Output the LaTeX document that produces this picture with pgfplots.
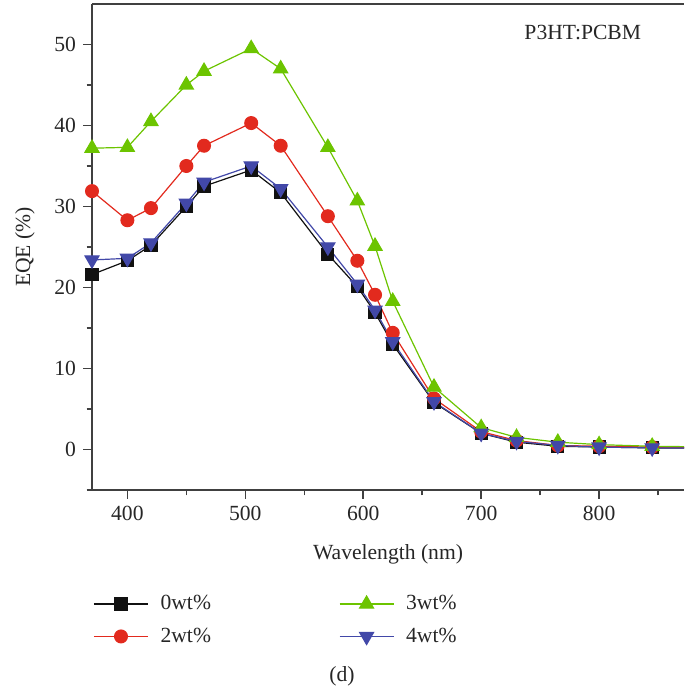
\documentclass[border=0pt]{standalone}
\usepackage{fontspec}
\setmainfont{Liberation Serif}
\usepackage{pgfplots}
\pgfplotsset{compat=1.18}
\definecolor{cblack}{RGB}{17,17,17}
\definecolor{cred}{RGB}{226,42,30}
\definecolor{cgreen}{RGB}{108,196,0}
\definecolor{cblue}{RGB}{66,72,168}
\newcommand{\fs}{\fontsize{10.8}{13}\selectfont}
\begin{document}
\begin{tikzpicture}
\begin{axis}[
  scale only axis, width=296pt, height=243pt,
  xmin=370, xmax=872, ymin=-5, ymax=55,
  axis x line=box, axis y line=left,
  xtick pos=left, ytick pos=left,
  axis line style={-, line width=0.75pt, color=black!75},
  xtick={400,500,600,700,800}, minor xtick={450,550,650,750,850},
  ytick={0,10,20,30,40,50}, minor ytick={-5,5,15,25,35,45},
  tick align=outside,
  major tick length=4.5pt, minor tick length=2.7pt,
  tick style={line width=0.75pt, color=black!75},
  /pgf/number format/assume math mode=true,
  ticklabel style={font=\fs, color=black!85},
  label style={font=\fs},
  xlabel={Wavelength (nm)}, ylabel={EQE (\%)},
  x label style={at={([yshift=-32pt]axis description cs:0.5,0)}, anchor=center, color=black!85},
  y label style={at={([xshift=-33.5pt]axis description cs:0,0.5)}, anchor=center, color=black!85},
  clip marker paths=false,
  legend columns=2, transpose legend,
  legend image code/.code={\draw[mark repeat=2,mark phase=2] plot coordinates {(0pt,0pt) (13.5pt,0pt) (27pt,0pt)};},
  legend style={at={([xshift=0.5pt,yshift=-50.5pt]rel axis cs:0,0)}, anchor=north west, draw=none, fill=none, inner sep=0pt,
    font=\fs, row sep=3.5pt, text=black!85,
    /tikz/every odd column/.append style={column sep=4pt},
    /tikz/every even column/.append style={column sep=62pt}},
]
\coordinate (tl) at (rel axis cs:0,1);
\addplot[color=cblack, line width=0.6pt, mark=square*, mark size=3pt, mark options={fill=cblack, draw=cblack}] coordinates {
(370,21.6) (400,23.3) (420,25.2) (450,30.0) (465,32.5) (505,34.5) (530,31.7) (570,24.1) (595,20.1) (610,16.9) (625,13.0) (660,5.8) (700,2.0) (730,0.9) (765,0.4) (800,0.3) (845,0.2) (900,0.15)};
\addlegendentry{0wt\%}
\addplot[color=cred, line width=0.6pt, mark=*, mark size=3.2pt, mark options={fill=cred, draw=cred}] coordinates {
(370,31.9) (400,28.3) (420,29.8) (450,35.0) (465,37.5) (505,40.3) (530,37.5) (570,28.8) (595,23.3) (610,19.1) (625,14.4) (660,6.3) (700,2.2) (730,1.1) (765,0.5) (800,0.4) (845,0.3) (900,0.2)};
\addlegendentry{2wt\%}
\addplot[color=cgreen, line width=0.6pt, mark=triangle*, mark size=4pt, mark options={fill=cgreen, draw=cgreen}] coordinates {
(370,37.2) (400,37.3) (420,40.5) (450,45.0) (465,46.7) (505,49.5) (530,47.0) (570,37.3) (595,30.7) (610,25.1) (625,18.3) (660,7.7) (700,2.7) (730,1.5) (765,0.9) (800,0.6) (845,0.4) (900,0.3)};
\addlegendentry{3wt\%}
\addplot[color=cblue, line width=0.6pt, mark=triangle*, mark size=4pt, mark options={fill=cblue, draw=cblue, rotate=180}] coordinates {
(370,23.4) (400,23.6) (420,25.5) (450,30.4) (465,33.0) (505,35.0) (530,32.2) (570,25.0) (595,20.4) (610,17.2) (625,13.3) (660,5.9) (700,2.0) (730,1.0) (765,0.5) (800,0.3) (845,0.2) (900,0.15)};
\addlegendentry{4wt\%}
\node[font=\fs, color=black!85] at (rel axis cs:0.829,0.942) {P3HT:PCBM};
\end{axis}
\node[font=\fs, color=black!85] at ([xshift=125pt,yshift=-336pt]tl) {(d)};
\pgfresetboundingbox
\path[use as bounding box] ([xshift=-46pt,yshift=2pt]tl) rectangle ([xshift=296pt,yshift=-342pt]tl);
\end{tikzpicture}
\end{document}
